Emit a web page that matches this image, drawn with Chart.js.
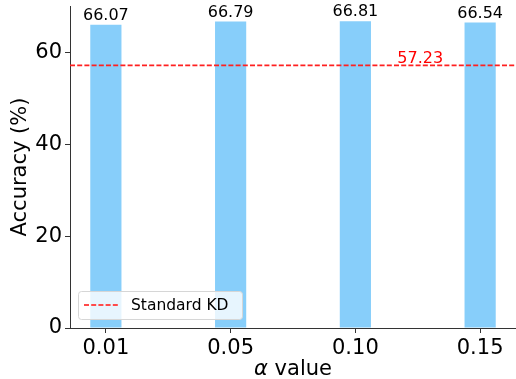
<!DOCTYPE html>
<html>
<head>
<meta charset="utf-8">
<script src="https://cdn.jsdelivr.net/npm/chart.js@4.4.0/dist/chart.umd.min.js"></script>
<style>
  html, body { margin: 0; padding: 0; background: #fff; }
  #wrap { width: 516px; height: 379px; }
</style>
</head>
<body>
<div id="wrap"><canvas id="accChart"></canvas></div>
<script>
// alpha values (categories) and accuracy per alpha
const alphaLabels = ['0.01', '0.05', '0.10', '0.15'];
const accuracy = [66.07, 66.79, 66.81, 66.54];
const baselineLabel = 'Standard KD';
const baselineValue = 57.23;
const yTicks = [0, 20, 40, 60];

const FONT = "'DejaVu Sans', sans-serif";

// draws value labels, baseline, legend box and axis titles
const overlay = {
    id: 'overlay',
    afterDatasetsDraw(chart) {
        const { ctx, chartArea, scales: { x, y } } = chart;
        ctx.save();

        // dashed baseline
        const by = y.getPixelForValue(baselineValue);
        ctx.strokeStyle = '#ff2020';
        ctx.lineWidth = 1.8;
        ctx.setLineDash([5, 2.2]);
        ctx.beginPath();
        ctx.moveTo(chartArea.left, by);
        ctx.lineTo(chartArea.right, by);
        ctx.stroke();
        ctx.setLineDash([]);

        ctx.fillStyle = '#ff0000';
        ctx.font = '16px ' + FONT;
        ctx.textAlign = 'center';
        ctx.textBaseline = 'bottom';
        ctx.fillText(baselineValue.toFixed(2), x.getPixelForValue(2.52), by + 2);

        // values on top of bars
        ctx.fillStyle = '#000';
        accuracy.forEach((v, i) => {
            ctx.fillText(v.toFixed(2), x.getPixelForValue(i), y.getPixelForValue(v) - 1);
        });

        // legend
        const lx = chartArea.left + 8, ly = chartArea.bottom - 37, lw = 164, lh = 28;
        ctx.fillStyle = 'rgba(255,255,255,0.8)';
        ctx.strokeStyle = '#d6d6d6';
        ctx.lineWidth = 1;
        ctx.beginPath();
        ctx.roundRect(lx + 0.5, ly + 0.5, lw, lh, 3);
        ctx.fill();
        ctx.stroke();
        ctx.strokeStyle = '#ff4a4a';
        ctx.lineWidth = 1.8;
        ctx.setLineDash([5, 2.2]);
        ctx.beginPath();
        ctx.moveTo(lx + 6, ly + lh / 2);
        ctx.lineTo(lx + 40, ly + lh / 2);
        ctx.stroke();
        ctx.setLineDash([]);
        ctx.fillStyle = '#000';
        ctx.font = '15.5px ' + FONT;
        ctx.textAlign = 'left';
        ctx.textBaseline = 'middle';
        ctx.fillText(baselineLabel, lx + 53, ly + lh / 2 + 1);

        // axis titles
        ctx.font = '21px ' + FONT;
        ctx.textAlign = 'center';
        ctx.textBaseline = 'middle';
        ctx.save();
        ctx.translate(21, (chartArea.top + chartArea.bottom) / 2);
        ctx.rotate(-Math.PI / 2);
        ctx.fillText('Accuracy (%)', 0, 0);
        ctx.restore();

        const cx = (chartArea.left + chartArea.right) / 2;
        ctx.textAlign = 'left';
        const italicA = 'italic 21px ' + FONT;
        const rest = ' value';
        ctx.font = italicA;
        const wA = ctx.measureText('α').width;
        ctx.font = '21px ' + FONT;
        const wR = ctx.measureText(rest).width;
        const sx = cx - (wA + wR) / 2;
        ctx.font = italicA;
        ctx.fillText('α', sx, 370);
        ctx.font = '21px ' + FONT;
        ctx.fillText(rest, sx + wA, 370);

        ctx.restore();
    }
};

const ctx = document.getElementById('accChart');
new Chart(ctx, {
    type: 'bar',
    data: {
        datasets: [{
            data: accuracy.map((v, i) => ({ x: i, y: v })),
            backgroundColor: '#87cefa',
            borderWidth: 0,
            barPercentage: 0.25,
            categoryPercentage: 1.0,
        }]
    },
    options: {
        responsive: true,
        maintainAspectRatio: false,
        animation: false,
        layout: { padding: { top: 6, right: 0, left: 0, bottom: 0 } },
        plugins: {
            legend: { display: false },
            tooltip: { enabled: false },
        },
        scales: {
            x: {
                type: 'linear',
                offset: false,
                min: -0.2875,
                max: 3.2875,
                afterBuildTicks: scale => { scale.ticks = alphaLabels.map((_, i) => ({ value: i })); },
                afterFit: scale => { scale.height = 51; scale.paddingLeft = 0; scale.paddingRight = 0; },
                ticks: {
                    callback: v => alphaLabels[v],
                    font: { family: FONT, size: 21 },
                    color: '#000',
                    padding: 3,
                    maxRotation: 0,
                    autoSkip: false,
                },
                grid: { drawOnChartArea: false, offset: false, tickLength: 5, color: '#333' },
                border: { color: '#333', width: 1 },
            },
            y: {
                min: 0,
                max: 70.15,
                afterBuildTicks: scale => { scale.ticks = yTicks.map(v => ({ value: v })); },
                afterFit: scale => { scale.width = 70; scale.paddingTop = 0; scale.paddingBottom = 0; },
                ticks: {
                    font: { family: FONT, size: 21 },
                    color: '#000',
                    padding: 3,
                },
                grid: { drawOnChartArea: false, tickLength: 5, color: '#333' },
                border: { color: '#333', width: 1 },
            }
        }
    },
    plugins: [overlay]
});
</script>
</body>
</html>
